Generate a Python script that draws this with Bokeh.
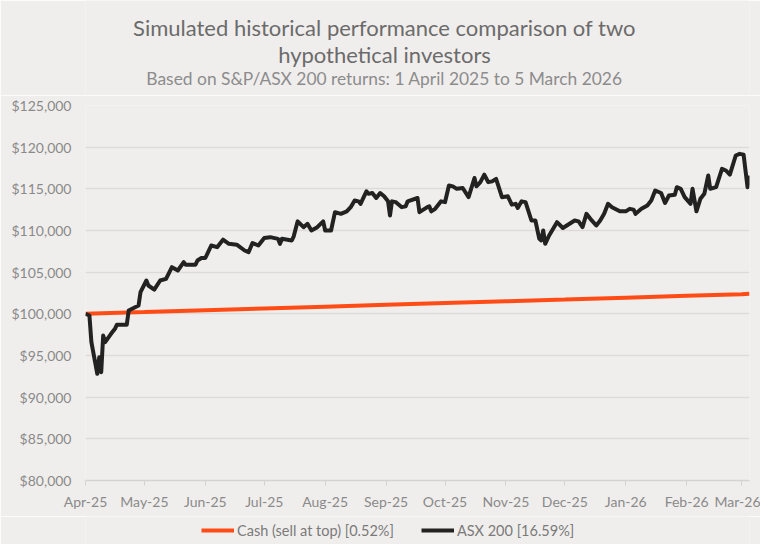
import pandas as pd
from bokeh.plotting import figure
from bokeh.layouts import column
from bokeh.models import (Range1d, NumeralTickFormatter, DatetimeTickFormatter,
                          FixedTicker, Legend, LegendItem, Label, ColumnDataSource)
from bokeh.embed import file_html
from bokeh.resources import INLINE

# ---------------- data ----------------
TITLE_1 = "Simulated historical performance comparison of two"
TITLE_2 = "hypothetical investors"
SUBTITLE = "Based on S&P/ASX 200 returns: 1 April 2025 to 5 March 2026"

month_ticks = ["2025-04-01", "2025-05-01", "2025-06-01", "2025-07-01", "2025-08-01",
               "2025-09-01", "2025-10-01", "2025-11-01", "2025-12-01", "2026-01-01",
               "2026-02-01", "2026-03-01"]
y_ticks = [80000, 85000, 90000, 95000, 100000, 105000, 110000, 115000, 120000, 125000]

cash_label = "Cash (sell at top) [0.52%]"
asx_label = "ASX 200 [16.59%]"

cash_dates = ["2025-04-01", "2025-05-01", "2025-06-01", "2025-07-01", "2025-08-01",
              "2025-09-01", "2025-10-01", "2025-11-01", "2025-12-01", "2026-01-01",
              "2026-02-01", "2026-03-01", "2026-03-05"]
cash_values = [100000, 100210, 100430, 100640, 100860, 101080, 101290, 101510,
               101720, 101940, 102160, 102360, 102400]

asx_dates = [
    "2025-04-01", "2025-04-03", "2025-04-04", "2025-04-07", "2025-04-08", "2025-04-09",
    "2025-04-10", "2025-04-11", "2025-04-14", "2025-04-16", "2025-04-17", "2025-04-22",
    "2025-04-23", "2025-04-28", "2025-04-29", "2025-05-02", "2025-05-03", "2025-05-06",
    "2025-05-09", "2025-05-12", "2025-05-15", "2025-05-18", "2025-05-21", "2025-05-22",
    "2025-05-27", "2025-05-28", "2025-05-30", "2025-06-01", "2025-06-04", "2025-06-07",
    "2025-06-10", "2025-06-13", "2025-06-17", "2025-06-21", "2025-06-23", "2025-06-25",
    "2025-06-28", "2025-07-01", "2025-07-04", "2025-07-08", "2025-07-09", "2025-07-10",
    "2025-07-15", "2025-07-16", "2025-07-18", "2025-07-21", "2025-07-23", "2025-07-25",
    "2025-07-28", "2025-07-31", "2025-08-01", "2025-08-04", "2025-08-06", "2025-08-09",
    "2025-08-12", "2025-08-14", "2025-08-16", "2025-08-18", "2025-08-19", "2025-08-22",
    "2025-08-23", "2025-08-25", "2025-08-27", "2025-08-29", "2025-08-31", "2025-09-02",
    "2025-09-03", "2025-09-04", "2025-09-06", "2025-09-09", "2025-09-11", "2025-09-12",
    "2025-09-17", "2025-09-18", "2025-09-22", "2025-09-23", "2025-09-24", "2025-09-26",
    "2025-09-29", "2025-10-01", "2025-10-03", "2025-10-05", "2025-10-07", "2025-10-10",
    "2025-10-13", "2025-10-16", "2025-10-17", "2025-10-19", "2025-10-21", "2025-10-23",
    "2025-10-25", "2025-10-27", "2025-10-30", "2025-11-02", "2025-11-04", "2025-11-06",
    "2025-11-07", "2025-11-09", "2025-11-11", "2025-11-14", "2025-11-16", "2025-11-18",
    "2025-11-19", "2025-11-20", "2025-11-21", "2025-11-23", "2025-11-27", "2025-11-30",
    "2025-12-02", "2025-12-06", "2025-12-08", "2025-12-10", "2025-12-12", "2025-12-14",
    "2025-12-17", "2025-12-19", "2025-12-21", "2025-12-23", "2025-12-25", "2025-12-29",
    "2026-01-01", "2026-01-03", "2026-01-05", "2026-01-06", "2026-01-09", "2026-01-12",
    "2026-01-14", "2026-01-16", "2026-01-19", "2026-01-21", "2026-01-23", "2026-01-26",
    "2026-01-27", "2026-01-29", "2026-01-31", "2026-02-03", "2026-02-04", "2026-02-06",
    "2026-02-08", "2026-02-10", "2026-02-12", "2026-02-13", "2026-02-16", "2026-02-19",
    "2026-02-21", "2026-02-23", "2026-02-26", "2026-02-28", "2026-03-02", "2026-03-04",
    "2026-03-05"]
asx_values = [
    100000, 99800, 96600, 92800, 94800, 93000,
    97400, 96600, 97600, 98200, 98700, 98700,
    100400, 101000, 102600, 104000, 103400, 102900,
    104000, 104200, 105600, 105200, 106200, 105900,
    105900, 106400, 106700, 106700, 108200, 108000,
    108900, 108400, 108300, 107600, 107400, 108500,
    108200, 109100, 109200, 109000, 108400, 109000,
    108800, 109300, 111100, 110400, 110800, 110000,
    110400, 111100, 110000, 110000, 112200, 112000,
    112300, 112800, 113600, 113500, 113200, 114700,
    114400, 114500, 113900, 114500, 114100, 113500,
    111800, 113500, 113400, 112800, 112900, 113500,
    113900, 112200, 112800, 112900, 112300, 112600,
    113500, 113400, 115400, 115300, 115000, 115100,
    114000, 116300, 115300, 115800, 116700, 115800,
    115900, 116200, 114000, 114100, 113100, 113200,
    112700, 113500, 113400, 111200, 111200, 109000,
    108800, 110000, 108400, 109400, 111000, 110300,
    110600, 111200, 111100, 110400, 112000, 111400,
    110600, 111200, 112000, 113200, 112800, 112300,
    112300, 112600, 112500, 112000, 112600, 113000,
    113600, 114800, 114500, 113300, 114200, 114300,
    115200, 115000, 114000, 113200, 115000, 112300,
    113800, 114400, 116600, 115000, 115200, 117400,
    117200, 116700, 119000, 119200, 119100, 115200,
    116590]

# ---------------- styling / layout ----------------
BG = "#f0eeec"
FONT = "Lato"
CASH_COLOR = "#ff4c17"
ASX_COLOR = "#222222"
GRID = "#dddbd9"
TITLE_H = 95
FRAME_W, FRAME_H = 664, 375
BORDER_L, BORDER_R, BORDER_T, BORDER_B = 85, 11, 10, 36
LEGEND_H = 28
CENTER_X = 384 - BORDER_L          # page centre, in frame pixels
LEGEND_X = 201 - BORDER_L          # legend start, in frame pixels


def to_ms(d):
    return pd.Timestamp(d).value / 1e6


def blank_fig(height):
    f = figure(frame_width=FRAME_W, frame_height=height, x_range=Range1d(0, FRAME_W),
               y_range=Range1d(0, height), output_backend="svg", title=None,
               toolbar_location=None, x_axis_location=None, y_axis_location=None,
               min_border_left=BORDER_L, min_border_right=BORDER_R,
               min_border_top=0, min_border_bottom=0)
    f.background_fill_color = BG
    f.border_fill_color = BG
    f.outline_line_color = None
    f.grid.visible = False
    return f


# ---- title block ----
pt = blank_fig(TITLE_H)
for txt, y_from_top, size, color in [(TITLE_1, 27, "22px", "#6b6b6b"),
                                     (TITLE_2, 53.5, "22px", "#6b6b6b"),
                                     (SUBTITLE, 78, "17.4px", "#8c8c8c")]:
    pt.add_layout(Label(x=CENTER_X, y=TITLE_H - y_from_top, text=txt,
                        text_align="center", text_baseline="middle", text_font=FONT,
                        text_font_size=size, text_color=color))

# ---- main chart ----
x_start = to_ms(asx_dates[0])
x_end = to_ms(asx_dates[-1])

p = figure(frame_width=FRAME_W, frame_height=FRAME_H, x_axis_type="datetime",
           output_backend="svg", toolbar_location=None, title=None,
           x_range=Range1d(x_start, x_end), y_range=Range1d(y_ticks[0], y_ticks[-1]),
           min_border_left=BORDER_L, min_border_right=BORDER_R,
           min_border_top=BORDER_T, min_border_bottom=BORDER_B)
p.background_fill_color = BG
p.border_fill_color = BG
p.outline_line_color = None

cash_src = ColumnDataSource(dict(x=pd.to_datetime(cash_dates), y=cash_values))
asx_src = ColumnDataSource(dict(x=pd.to_datetime(asx_dates), y=asx_values))

p.line("x", "y", source=cash_src, line_color=CASH_COLOR, line_width=4)
p.line("x", "y", source=asx_src, line_color=ASX_COLOR, line_width=4, line_join="round")

p.xaxis.ticker = FixedTicker(ticks=[to_ms(d) for d in month_ticks])
fmt = "%b-%y"
p.xaxis.formatter = DatetimeTickFormatter(days=fmt, months=fmt, years=fmt,
                                          hours=fmt, minutes=fmt)
p.xaxis.axis_line_color = "#d5d3d1"
p.xaxis.axis_line_width = 1.5
p.xaxis.major_tick_line_color = "#d5d3d1"
p.xaxis.major_tick_out = 5
p.xaxis.major_tick_in = 0
p.xaxis.minor_tick_line_color = None
p.xaxis.major_label_text_font = FONT
p.xaxis.major_label_text_font_size = "14px"
p.xaxis.major_label_text_color = "#8a8a8a"
p.xaxis.major_label_standoff = 7

p.yaxis.ticker = FixedTicker(ticks=y_ticks)
p.yaxis.formatter = NumeralTickFormatter(format="$0,0")
p.yaxis.axis_line_color = None
p.yaxis.major_tick_line_color = None
p.yaxis.major_tick_out = 0
p.yaxis.major_tick_in = 0
p.yaxis.minor_tick_line_color = None
p.yaxis.major_label_text_font = FONT
p.yaxis.major_label_text_font_size = "14px"
p.yaxis.major_label_text_color = "#8a8a8a"
p.yaxis.major_label_standoff = 14

p.xgrid.grid_line_color = None
p.ygrid.grid_line_color = GRID
p.ygrid.grid_line_width = 1.5

# ---- legend block (its renderers reuse the series; they fall outside its range) ----
pl = blank_fig(LEGEND_H)
lc = pl.line("x", "y", source=cash_src, line_color=CASH_COLOR, line_width=4)
la = pl.line("x", "y", source=asx_src, line_color=ASX_COLOR, line_width=4)
legend = Legend(items=[LegendItem(label=cash_label, renderers=[lc]),
                       LegendItem(label=asx_label, renderers=[la])],
                orientation="horizontal", location=(LEGEND_X, 5))
legend.background_fill_alpha = 0
legend.border_line_alpha = 0
legend.label_text_font = FONT
legend.label_text_font_size = "14.5px"
legend.label_text_color = "#7a7a7a"
legend.glyph_width = 33
legend.glyph_height = 18
legend.label_height = 18
legend.label_standoff = 3
legend.spacing = 27
legend.padding = 0
legend.margin = 0
pl.add_layout(legend, "center")

layout = column(pt, p, pl, spacing=0)
open("out.html", "w").write(file_html(layout, INLINE))
